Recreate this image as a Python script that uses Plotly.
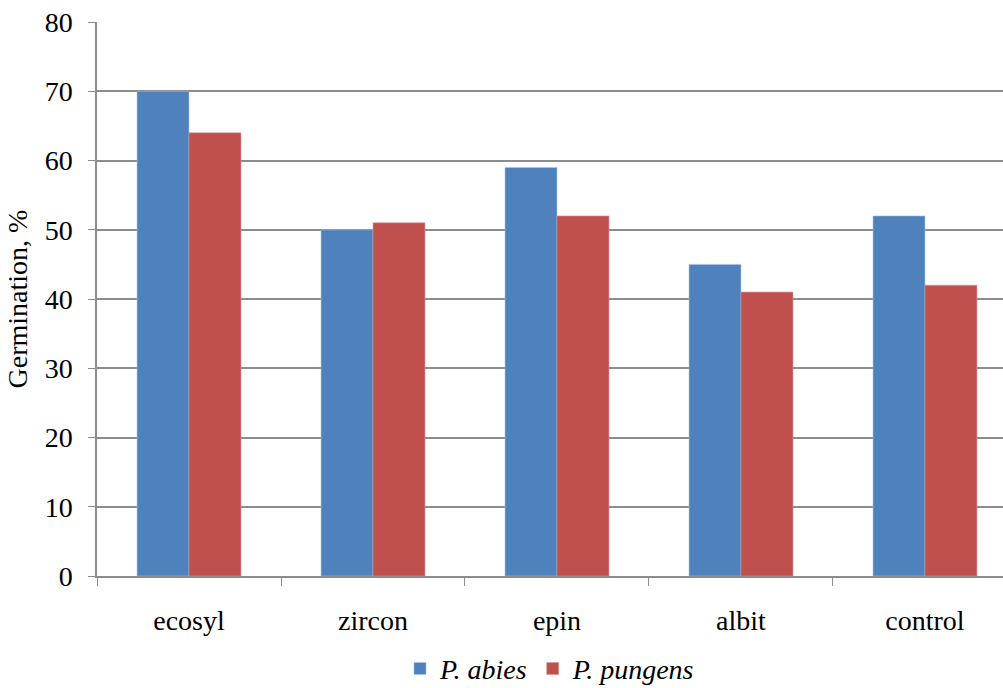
import plotly.graph_objects as go

categories = ["ecosyl", "zircon", "epin", "albit", "control"]
p_abies = [70, 50, 59, 45, 52]
p_pungens = [64, 51, 52, 41, 42]
y_ticks = [0, 10, 20, 30, 40, 50, 60, 70, 80]

FONT = "Liberation Serif, Times New Roman, serif"
GRID = "#8c8c8c"

fig = go.Figure()
fig.add_trace(go.Bar(x=categories, y=p_abies, name="<i>P. abies</i>",
                     marker=dict(color="#4f81bd", line=dict(color="#a9c2e0", width=0.6))))
fig.add_trace(go.Bar(x=categories, y=p_pungens, name="<i>P. pungens</i>",
                     marker=dict(color="#c0504d", line=dict(color="#d99795", width=0.6))))

fig.update_layout(
    width=1003, height=688,
    margin=dict(l=97, r=0, t=22, b=112, autoexpand=False),
    plot_bgcolor="white", paper_bgcolor="white",
    barmode="group", bargap=0.435, bargroupgap=0,
    font=dict(family=FONT, size=28, color="black"),
    legend=dict(orientation="h", x=0.5, xanchor="center", xref="paper",
                y=0.028, yanchor="middle", yref="container",
                font=dict(family=FONT, size=28), itemwidth=30, tracegroupgap=0),
    showlegend=True,
)
fig.update_xaxes(
    range=[-0.5, 4.424], tickson="boundaries", ticks="outside", ticklen=8,
    tickcolor=GRID, showline=True, linecolor=GRID, linewidth=1.5,
    showgrid=False, tickfont=dict(family=FONT, size=28), ticklabelstandoff=19,
)
fig.update_yaxes(
    range=[0, 80], tickvals=y_ticks, ticks="outside", ticklen=7, tickcolor=GRID,
    showline=True, linecolor=GRID, linewidth=1.5,
    showgrid=True, gridcolor=GRID, gridwidth=1.5, zeroline=False,
    tickfont=dict(family=FONT, size=28), ticklabelstandoff=10,
    title=dict(text="Germination, %", font=dict(family=FONT, size=28), standoff=9),
)

fig.write_html("out.html")
